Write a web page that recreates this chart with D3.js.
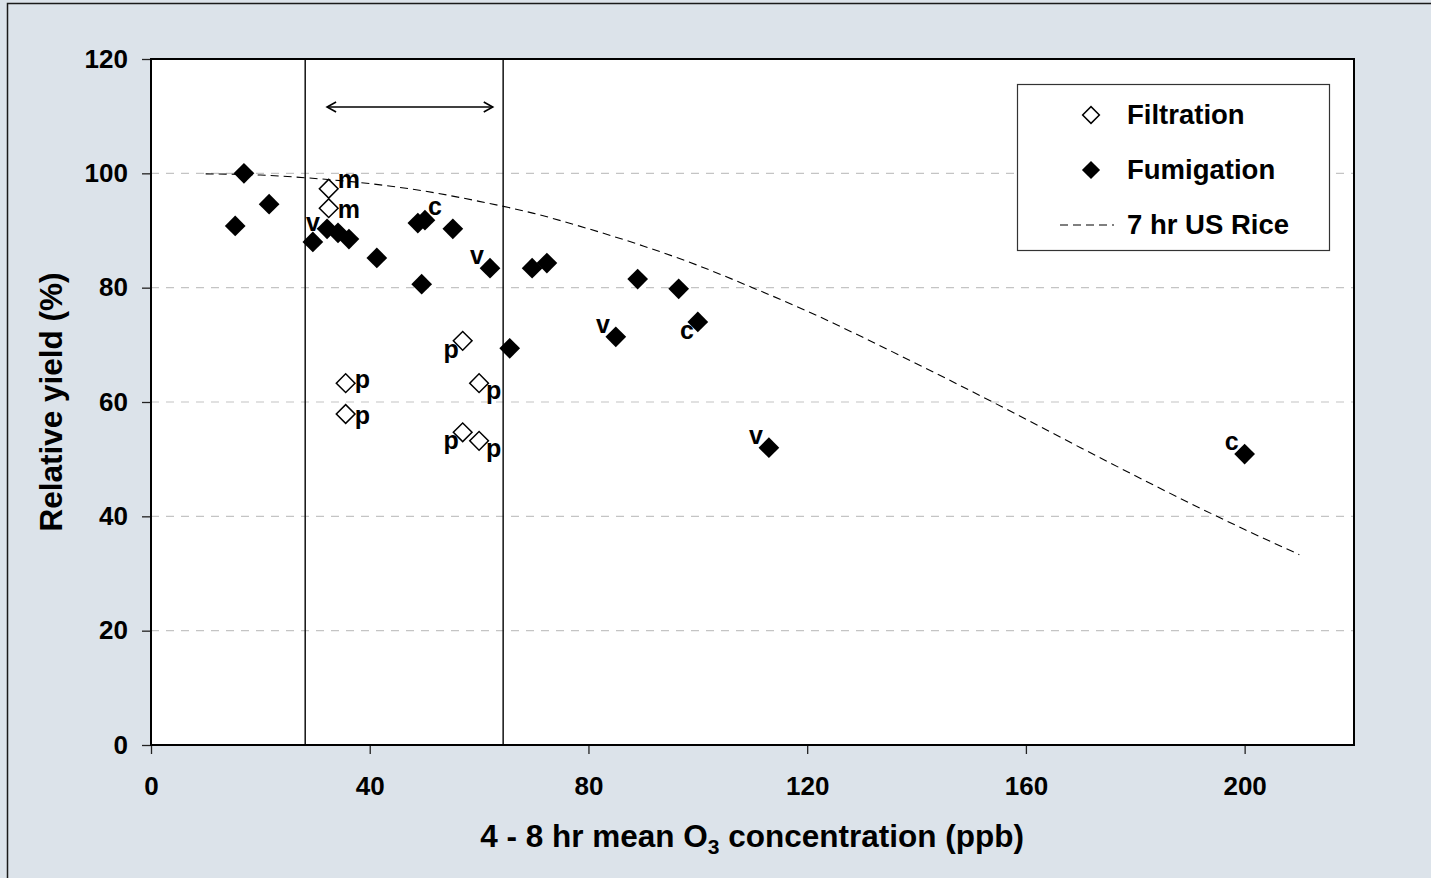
<!DOCTYPE html>
<html>
<head>
<meta charset="utf-8">
<script src="https://cdn.jsdelivr.net/npm/d3@7"></script>
<style>
  html, body { margin: 0; padding: 0; background: #dce3ea; }
  svg { display: block; font-family: Arial, "Liberation Sans", sans-serif; font-weight: bold; }
</style>
</head>
<body>
<script>
// Fumigation experiments (filled diamonds)
const fumX = [15.4, 17.0, 21.6, 29.6, 32.2, 34.2, 36.2, 41.3, 48.8, 50.1, 49.5, 55.2, 62.0, 65.6, 69.7, 72.4, 85.0, 89.0, 96.5, 100.0, 113.0, 200.0];
const fumY = [90.8, 100.0, 94.6, 88.0, 90.3, 89.6, 88.5, 85.2, 91.3, 91.8, 80.6, 90.3, 83.4, 69.4, 83.4, 84.3, 71.4, 81.5, 79.8, 74.0, 52.0, 50.9];
const fumLabel = ["", "", "", "v", "", "", "", "", "", "c", "", "", "v", "", "", "", "v", "", "", "c", "v", "c"];
const fumLabelPos = ["", "", "", "t", "", "", "", "", "", "ur", "", "", "ul", "", "", "", "ul", "", "", "ll", "ul", "ul"];

// Filtration experiments (open diamonds)
const filtX = [32.5, 32.5, 35.6, 35.6, 57.0, 60.0, 57.0, 60.0];
const filtY = [97.3, 93.9, 63.3, 57.9, 70.7, 63.3, 54.7, 53.2];
const filtLabel = ["m", "m", "p", "p", "p", "p", "p", "p"];
const filtLabelPos = ["rt", "rb", "r", "rb", "ll", "lr", "ll", "lr"];

// 7 hr US Rice response curve
const riceX = [10, 20, 30, 40, 50, 60, 70, 80, 90, 100, 110, 120, 130, 140, 150, 160, 170, 180, 190, 200, 210];
const riceY = [99.9, 99.7, 99.1, 98.2, 96.9, 95.1, 93.0, 90.3, 87.3, 83.9, 80.0, 75.9, 71.4, 66.7, 61.9, 57.0, 52.0, 47.1, 42.3, 37.7, 33.3];

// range markers and arrow
const rangeX = [28.2, 64.4];
const arrowX = [32.2, 62.5];
const arrowY = 111.6;

const xTicks = [0, 40, 80, 120, 160, 200];
const yTicks = [0, 20, 40, 60, 80, 100, 120];
const gridY = [20, 40, 60, 80, 100];

const W = 1431, H = 878;
const M = { left: 151, top: 59, right: 1354, bottom: 745 };

const svg = d3.select("body").append("svg").attr("width", W).attr("height", H);

// outer frame
svg.append("rect")
  .attr("x", 7.5).attr("y", 3.5).attr("width", W + 20).attr("height", H + 20)
  .attr("fill", "#dce3ea").attr("stroke", "#1a1a1a").attr("stroke-width", 1.5);

const x = d3.scaleLinear().domain([0, 220]).range([M.left, M.right]);
const y = d3.scaleLinear().domain([0, 120]).range([M.bottom, M.top]);

// plot area
svg.append("rect")
  .attr("x", M.left).attr("y", M.top)
  .attr("width", M.right - M.left).attr("height", M.bottom - M.top)
  .attr("fill", "white");

// gridlines
svg.append("g")
  .selectAll("line")
  .data(gridY)
  .join("line")
  .attr("x1", M.left).attr("x2", M.right)
  .attr("y1", (d) => y(d)).attr("y2", (d) => y(d))
  .attr("stroke", "#c4c4c4").attr("stroke-width", 1.2)
  .attr("stroke-dasharray", "8,7");

// axes
const xAxis = svg.append("g")
  .attr("transform", `translate(0,${M.bottom})`)
  .call(d3.axisBottom(x).tickValues(xTicks).tickSize(9).tickPadding(23).tickSizeOuter(0));
const yAxis = svg.append("g")
  .attr("transform", `translate(${M.left},0)`)
  .call(d3.axisLeft(y).tickValues(yTicks).tickSize(9).tickPadding(14).tickSizeOuter(0));
[xAxis, yAxis].forEach((a) => {
  a.select(".domain").remove();
  a.selectAll(".tick line").attr("stroke", "#222").attr("stroke-width", 1.3);
  a.selectAll(".tick text")
    .attr("fill", "#000")
    .style("font-size", "26px")
    .style("font-weight", "bold")
    .style("font-family", "Arial, 'Liberation Sans', sans-serif");
});

// range lines
svg.append("g")
  .selectAll("line")
  .data(rangeX)
  .join("line")
  .attr("x1", (d) => x(d)).attr("x2", (d) => x(d))
  .attr("y1", M.top).attr("y2", M.bottom)
  .attr("stroke", "#111").attr("stroke-width", 1.5);

// double arrow
const ay = y(arrowY);
const ax0 = x(arrowX[0]), ax1 = x(arrowX[1]);
const arrow = svg.append("g").attr("stroke", "#000").attr("stroke-width", 1.6).attr("fill", "none");
arrow.append("line").attr("x1", ax0).attr("x2", ax1).attr("y1", ay).attr("y2", ay);
arrow.append("path").attr("d", `M${ax0 + 9},${ay - 5}L${ax0},${ay}L${ax0 + 9},${ay + 5}`);
arrow.append("path").attr("d", `M${ax1 - 9},${ay - 5}L${ax1},${ay}L${ax1 - 9},${ay + 5}`);

// response curve
const line = d3.line().x((d) => x(d[0])).y((d) => y(d[1])).curve(d3.curveMonotoneX);
svg.append("path")
  .datum(d3.zip(riceX, riceY))
  .attr("d", line)
  .attr("fill", "none")
  .attr("stroke", "#000").attr("stroke-width", 1.1)
  .attr("stroke-dasharray", "8,5");

// point labels
const labelOffsets = {
  r: { dx: 9, dy: 5, anchor: "start" },
  rt: { dx: 9, dy: -1, anchor: "start" },
  rb: { dx: 9, dy: 10, anchor: "start" },
  ul: { dx: -6, dy: -4, anchor: "end" },
  ur: { dx: 3, dy: -5, anchor: "start" },
  ll: { dx: -4, dy: 17, anchor: "end" },
  lr: { dx: 7, dy: 16, anchor: "start" },
  t: { dx: 0, dy: -11, anchor: "middle" }
};
const labelled = d3.zip(filtX, filtY, filtLabel, filtLabelPos)
  .concat(d3.zip(fumX, fumY, fumLabel, fumLabelPos))
  .filter((d) => d[2] !== "");
svg.append("g")
  .selectAll("text")
  .data(labelled)
  .join("text")
  .attr("x", (d) => x(d[0]) + labelOffsets[d[3]].dx)
  .attr("y", (d) => y(d[1]) + labelOffsets[d[3]].dy)
  .attr("text-anchor", (d) => labelOffsets[d[3]].anchor)
  .style("font-size", "25px")
  .text((d) => d[2]);

// markers
const diamond = (size) => d3.symbol(d3.symbolSquare, size)();
svg.append("g")
  .selectAll("path")
  .data(d3.zip(fumX, fumY))
  .join("path")
  .attr("d", diamond(215))
  .attr("transform", (d) => `translate(${x(d[0])},${y(d[1])}) rotate(45)`)
  .attr("fill", "#000");
svg.append("g")
  .selectAll("path")
  .data(d3.zip(filtX, filtY))
  .join("path")
  .attr("d", diamond(175))
  .attr("transform", (d) => `translate(${x(d[0])},${y(d[1])}) rotate(45)`)
  .attr("fill", "white").attr("stroke", "#000").attr("stroke-width", 1.5);

// plot border
svg.append("rect")
  .attr("x", M.left).attr("y", M.top)
  .attr("width", M.right - M.left).attr("height", M.bottom - M.top)
  .attr("fill", "none").attr("stroke", "#000").attr("stroke-width", 2);

// legend
const lg = svg.append("g");
lg.append("rect")
  .attr("x", 1017.5).attr("y", 84.5).attr("width", 312).attr("height", 166)
  .attr("fill", "white").attr("stroke", "#333").attr("stroke-width", 1.2);
lg.append("path").attr("d", diamond(140))
  .attr("transform", "translate(1091,115) rotate(45)")
  .attr("fill", "white").attr("stroke", "#000").attr("stroke-width", 1.5);
lg.append("path").attr("d", diamond(165))
  .attr("transform", "translate(1091,170) rotate(45)")
  .attr("fill", "#000");
lg.append("line")
  .attr("x1", 1060).attr("x2", 1114).attr("y1", 225).attr("y2", 225)
  .attr("stroke", "#000").attr("stroke-width", 1.1).attr("stroke-dasharray", "8,5");
lg.selectAll("text")
  .data(["Filtration", "Fumigation", "7 hr US Rice"])
  .join("text")
  .attr("x", 1127)
  .attr("y", (d, i) => 124 + i * 55)
  .style("font-size", "27.5px")
  .text((d) => d);

// axis titles
const xt = svg.append("text")
  .attr("x", 752).attr("y", 847)
  .attr("text-anchor", "middle")
  .style("font-size", "31.5px");
xt.append("tspan").text("4 - 8 hr mean O");
xt.append("tspan").attr("dy", 7).style("font-size", "21px").text("3");
xt.append("tspan").attr("dy", -7).text(" concentration (ppb)");

svg.append("text")
  .attr("transform", `translate(62,${(M.top + M.bottom) / 2}) rotate(-90)`)
  .attr("text-anchor", "middle")
  .style("font-size", "31.5px")
  .text("Relative yield (%)");
</script>
</body>
</html>
